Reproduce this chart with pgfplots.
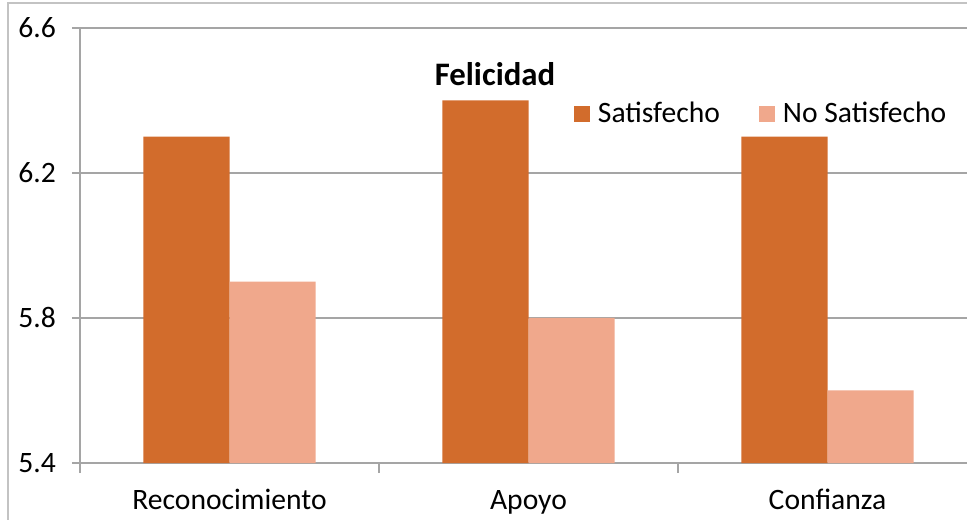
\documentclass[border=0pt]{standalone}
\usepackage{fontspec}
\setmainfont{Carlito}
\usepackage{pgfplots}
\pgfplotsset{compat=1.18}
\definecolor{sat}{RGB}{210,108,44}
\definecolor{nosat}{RGB}{240,168,140}
\definecolor{gridc}{RGB}{165,165,165}
\definecolor{framec}{RGB}{195,195,195}
\begin{document}
\begin{tikzpicture}[x=1pt,y=1pt]
\useasboundingbox (0,0) rectangle (483.5,259.5);
\draw[framec, line width=0.9pt] (4,-10) -- (4,257.8) -- (500,257.8);
\begin{axis}[
  at={(40pt,28pt)}, anchor=south west,
  scale only axis, width=448.5pt, height=217.5pt,
  xmin=0, xmax=3, ymin=5.4, ymax=6.6,
  axis x line*=bottom, axis y line*=left,
  axis line style={gridc, line width=0.7pt},
  ytick={5.4,5.8,6.2,6.6}, yticklabels={5.4,5.8,6.2,6.6},
  ymajorgrids, grid style={gridc, line width=0.7pt},
  tick align=outside, major tick length=4pt,
  tick style={gridc, line width=0.7pt},
  xtick={0.5,1.5,2.5}, xticklabels={Reconocimiento,Apoyo,Confianza},
  x tick style={draw=none},
  minor xtick={0,1,2,3}, minor tick length=5pt,
  minor x tick style={gridc, line width=0.7pt, draw=gridc},
  ticklabel style={font=\fontsize{14.8}{17}\selectfont, text=black},
  yticklabel style={xshift=-4.5pt},
  xticklabel style={anchor=base, yshift=-19pt},
  legend style={at={(rel axis cs:0.5435,0.803)}, anchor=west, draw=none, fill=none,
    font=\fontsize{14.8}{17}\selectfont, legend columns=2,
    /tikz/every odd column/.append style={column sep=2pt},
    /tikz/every even column/.append style={column sep=17.5pt},
    legend cell align=left},
  legend image code/.code={\fill[#1] (0pt,-4pt) rectangle (8pt,4pt);},
]
\addplot[ybar, bar width=0.288, bar shift=-0.144, fill=sat, draw=none]
  coordinates {(0.5,6.3) (1.5,6.4) (2.5,6.3)};
\addlegendentry{Satisfecho}
\addplot[ybar, bar width=0.288, bar shift=0.144, fill=nosat, draw=none]
  coordinates {(0.5,5.9) (1.5,5.8) (2.5,5.6)};
\addlegendentry{No Satisfecho}
\end{axis}
\node[font=\bfseries\fontsize{16.4}{19}\selectfont] at (247.5,222.5) {Felicidad};
\end{tikzpicture}
\end{document}
